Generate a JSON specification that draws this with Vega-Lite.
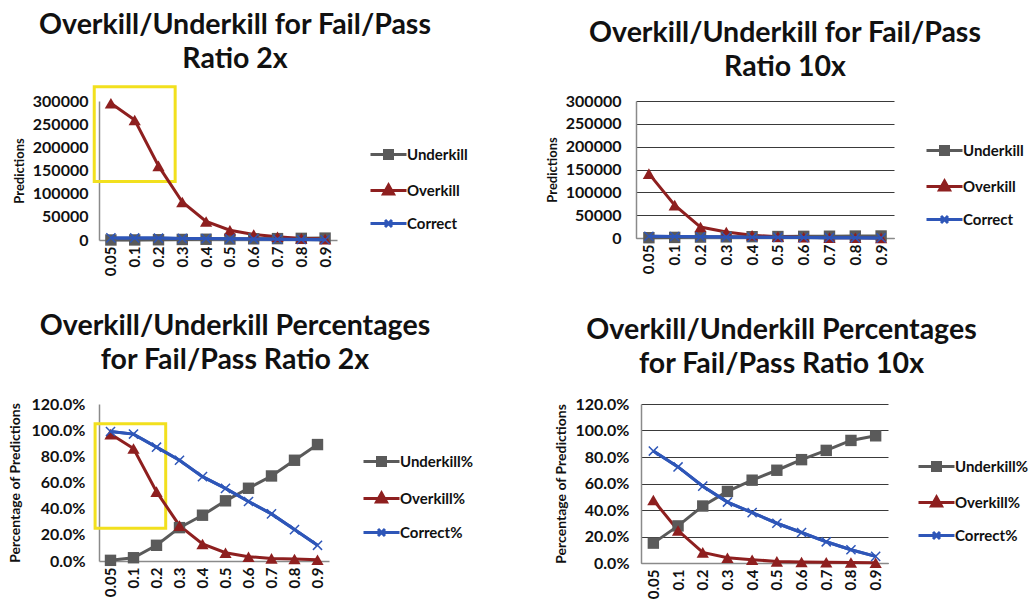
{
  "$schema": "https://vega.github.io/schema/vega-lite/v6.json",
  "background": "white",
  "padding": {"left": 8, "top": 10, "right": 0, "bottom": 0},
  "config": {
    "font": "Lato",
    "view": {"stroke": null},
    "title": {"font": "Lato", "fontSize": 28.5, "fontWeight": "bold", "color": "#111", "lineHeight": 34, "anchor": "middle", "offset": 12},
    "axis": {"labelFont": "Lato", "labelFontWeight": "bold", "labelColor": "#111", "titleFont": "Lato", "titleFontWeight": "bold", "titleColor": "#111", "ticks": false, "domainColor": "#8a8a8a", "domainWidth": 1.5, "labelOverlap": false},
    "axisY": {"labelFontSize": 16, "labelPadding": 11, "gridColor": "#3a3a3a", "gridWidth": 1, "titlePadding": 6},
    "axisX": {"labelFontSize": 15, "labelAngle": -90, "labelPadding": 6, "grid": false, "title": null},
    "legend": {"labelFont": "Lato", "labelFontSize": 15, "labelFontWeight": "bold", "labelColor": "#111", "symbolSize": 100, "symbolStrokeWidth": 3, "labelOffset": 24, "rowPadding": 14, "title": null},
    "point": {"size": 130, "opacity": 1}
  },
  "datasets": {
    "counts2x": [
      {"threshold": "0.05", "series": "Underkill", "value": 30},
      {"threshold": "0.1", "series": "Underkill", "value": 120},
      {"threshold": "0.2", "series": "Underkill", "value": 550},
      {"threshold": "0.3", "series": "Underkill", "value": 1170},
      {"threshold": "0.4", "series": "Underkill", "value": 1610},
      {"threshold": "0.5", "series": "Underkill", "value": 2120},
      {"threshold": "0.6", "series": "Underkill", "value": 2560},
      {"threshold": "0.7", "series": "Underkill", "value": 2990},
      {"threshold": "0.8", "series": "Underkill", "value": 3540},
      {"threshold": "0.9", "series": "Underkill", "value": 4100},
      {"threshold": "0.05", "series": "Overkill", "value": 295000},
      {"threshold": "0.1", "series": "Overkill", "value": 259000},
      {"threshold": "0.2", "series": "Overkill", "value": 160000},
      {"threshold": "0.3", "series": "Overkill", "value": 82000},
      {"threshold": "0.4", "series": "Overkill", "value": 40000},
      {"threshold": "0.5", "series": "Overkill", "value": 21000},
      {"threshold": "0.6", "series": "Overkill", "value": 12000},
      {"threshold": "0.7", "series": "Overkill", "value": 7000},
      {"threshold": "0.8", "series": "Overkill", "value": 3500},
      {"threshold": "0.9", "series": "Overkill", "value": 2000},
      {"threshold": "0.05", "series": "Correct", "value": 4570},
      {"threshold": "0.1", "series": "Correct", "value": 4480},
      {"threshold": "0.2", "series": "Correct", "value": 4050},
      {"threshold": "0.3", "series": "Correct", "value": 3430},
      {"threshold": "0.4", "series": "Correct", "value": 2990},
      {"threshold": "0.5", "series": "Correct", "value": 2480},
      {"threshold": "0.6", "series": "Correct", "value": 2040},
      {"threshold": "0.7", "series": "Correct", "value": 1610},
      {"threshold": "0.8", "series": "Correct", "value": 1060},
      {"threshold": "0.9", "series": "Correct", "value": 500}
    ],
    "counts10x": [
      {"threshold": "0.05", "series": "Underkill", "value": 700},
      {"threshold": "0.1", "series": "Underkill", "value": 1300},
      {"threshold": "0.2", "series": "Underkill", "value": 2000},
      {"threshold": "0.3", "series": "Underkill", "value": 2500},
      {"threshold": "0.4", "series": "Underkill", "value": 2900},
      {"threshold": "0.5", "series": "Underkill", "value": 3200},
      {"threshold": "0.6", "series": "Underkill", "value": 3600},
      {"threshold": "0.7", "series": "Underkill", "value": 3900},
      {"threshold": "0.8", "series": "Underkill", "value": 4250},
      {"threshold": "0.9", "series": "Underkill", "value": 4400},
      {"threshold": "0.05", "series": "Overkill", "value": 141000},
      {"threshold": "0.1", "series": "Overkill", "value": 72000},
      {"threshold": "0.2", "series": "Overkill", "value": 24000},
      {"threshold": "0.3", "series": "Overkill", "value": 13000},
      {"threshold": "0.4", "series": "Overkill", "value": 6000},
      {"threshold": "0.5", "series": "Overkill", "value": 3000},
      {"threshold": "0.6", "series": "Overkill", "value": 1500},
      {"threshold": "0.7", "series": "Overkill", "value": 800},
      {"threshold": "0.8", "series": "Overkill", "value": 500},
      {"threshold": "0.9", "series": "Overkill", "value": 200},
      {"threshold": "0.05", "series": "Correct", "value": 3900},
      {"threshold": "0.1", "series": "Correct", "value": 3300},
      {"threshold": "0.2", "series": "Correct", "value": 2600},
      {"threshold": "0.3", "series": "Correct", "value": 2100},
      {"threshold": "0.4", "series": "Correct", "value": 1700},
      {"threshold": "0.5", "series": "Correct", "value": 1400},
      {"threshold": "0.6", "series": "Correct", "value": 1000},
      {"threshold": "0.7", "series": "Correct", "value": 700},
      {"threshold": "0.8", "series": "Correct", "value": 450},
      {"threshold": "0.9", "series": "Correct", "value": 200}
    ],
    "pct2x": [
      {"threshold": "0.05", "series": "Underkill%", "value": 0.005},
      {"threshold": "0.1", "series": "Underkill%", "value": 0.025},
      {"threshold": "0.2", "series": "Underkill%", "value": 0.12},
      {"threshold": "0.3", "series": "Underkill%", "value": 0.255},
      {"threshold": "0.4", "series": "Underkill%", "value": 0.35},
      {"threshold": "0.5", "series": "Underkill%", "value": 0.46},
      {"threshold": "0.6", "series": "Underkill%", "value": 0.556},
      {"threshold": "0.7", "series": "Underkill%", "value": 0.65},
      {"threshold": "0.8", "series": "Underkill%", "value": 0.77},
      {"threshold": "0.9", "series": "Underkill%", "value": 0.89},
      {"threshold": "0.05", "series": "Overkill%", "value": 0.97},
      {"threshold": "0.1", "series": "Overkill%", "value": 0.86},
      {"threshold": "0.2", "series": "Overkill%", "value": 0.53},
      {"threshold": "0.3", "series": "Overkill%", "value": 0.27},
      {"threshold": "0.4", "series": "Overkill%", "value": 0.13},
      {"threshold": "0.5", "series": "Overkill%", "value": 0.063},
      {"threshold": "0.6", "series": "Overkill%", "value": 0.033},
      {"threshold": "0.7", "series": "Overkill%", "value": 0.02},
      {"threshold": "0.8", "series": "Overkill%", "value": 0.015},
      {"threshold": "0.9", "series": "Overkill%", "value": 0.01},
      {"threshold": "0.05", "series": "Correct%", "value": 0.99},
      {"threshold": "0.1", "series": "Correct%", "value": 0.97},
      {"threshold": "0.2", "series": "Correct%", "value": 0.87},
      {"threshold": "0.3", "series": "Correct%", "value": 0.77},
      {"threshold": "0.4", "series": "Correct%", "value": 0.645},
      {"threshold": "0.5", "series": "Correct%", "value": 0.555},
      {"threshold": "0.6", "series": "Correct%", "value": 0.455},
      {"threshold": "0.7", "series": "Correct%", "value": 0.36},
      {"threshold": "0.8", "series": "Correct%", "value": 0.24},
      {"threshold": "0.9", "series": "Correct%", "value": 0.12}
    ],
    "pct10x": [
      {"threshold": "0.05", "series": "Underkill%", "value": 0.15},
      {"threshold": "0.1", "series": "Underkill%", "value": 0.28},
      {"threshold": "0.2", "series": "Underkill%", "value": 0.43},
      {"threshold": "0.3", "series": "Underkill%", "value": 0.54},
      {"threshold": "0.4", "series": "Underkill%", "value": 0.625},
      {"threshold": "0.5", "series": "Underkill%", "value": 0.70},
      {"threshold": "0.6", "series": "Underkill%", "value": 0.78},
      {"threshold": "0.7", "series": "Underkill%", "value": 0.85},
      {"threshold": "0.8", "series": "Underkill%", "value": 0.925},
      {"threshold": "0.9", "series": "Underkill%", "value": 0.96},
      {"threshold": "0.05", "series": "Overkill%", "value": 0.475},
      {"threshold": "0.1", "series": "Overkill%", "value": 0.245},
      {"threshold": "0.2", "series": "Overkill%", "value": 0.08},
      {"threshold": "0.3", "series": "Overkill%", "value": 0.04},
      {"threshold": "0.4", "series": "Overkill%", "value": 0.025},
      {"threshold": "0.5", "series": "Overkill%", "value": 0.012},
      {"threshold": "0.6", "series": "Overkill%", "value": 0.008},
      {"threshold": "0.7", "series": "Overkill%", "value": 0.006},
      {"threshold": "0.8", "series": "Overkill%", "value": 0.004},
      {"threshold": "0.9", "series": "Overkill%", "value": 0.002},
      {"threshold": "0.05", "series": "Correct%", "value": 0.845},
      {"threshold": "0.1", "series": "Correct%", "value": 0.725},
      {"threshold": "0.2", "series": "Correct%", "value": 0.58},
      {"threshold": "0.3", "series": "Correct%", "value": 0.46},
      {"threshold": "0.4", "series": "Correct%", "value": 0.38},
      {"threshold": "0.5", "series": "Correct%", "value": 0.30},
      {"threshold": "0.6", "series": "Correct%", "value": 0.23},
      {"threshold": "0.7", "series": "Correct%", "value": 0.16},
      {"threshold": "0.8", "series": "Correct%", "value": 0.10},
      {"threshold": "0.9", "series": "Correct%", "value": 0.05}
    ]
  },
  "spacing": 32,
  "resolve": {"scale": {"color": "independent"}, "legend": {"color": "independent"}},
  "vconcat": [
    {
      "spacing": 32,
      "resolve": {"scale": {"color": "independent"}, "legend": {"color": "independent"}},
      "hconcat": [
        {
          "width": 238, "height": 139,
          "title": {"text": ["Overkill/Underkill for Fail/Pass", "Ratio 2x"], "dx": 17},
          "data": {"name": "counts2x"},
          "layer": [
            {
              "data": {"values": [{}]},
              "mark": {"type": "rect", "filled": false, "stroke": "#f2e01e", "strokeWidth": 3},
              "encoding": {
                "x": {"datum": -0.2, "type": "quantitative", "scale": {"domain": [0, 10]}, "axis": null},
                "x2": {"datum": 3.2},
                "y": {"datum": 331000, "type": "quantitative", "axis": {"values": [0, 50000, 100000, 150000, 200000, 250000, 300000], "format": "d", "title": "Predictions", "titleFontSize": 13}},
                "y2": {"datum": 126000}
              }
            },
            {
              "encoding": {
                "x": {"field": "threshold", "type": "ordinal", "sort": null, "scale": {"type": "point", "padding": 0.5}},
                "y": {"field": "value", "type": "quantitative", "scale": {"domain": [0, 300000]}, "axis": {"values": [0, 50000, 100000, 150000, 200000, 250000, 300000], "format": "d", "title": "Predictions", "titleFontSize": 13}}
              },
              "layer": [
                {
                  "mark": {"type": "line", "strokeWidth": 3},
                  "encoding": {
                    "color": {"field": "series", "type": "nominal",
                      "scale": {"domain": ["Underkill", "Overkill", "Correct"], "range": ["#5a5a5a", "#8e1f1f", "#2e56b8"]},
                      "legend": {"offset": -15, "padding": 46,
                        "encode": {"symbols": {"update": {
                          "shape": {"signal": "indexof(datum.value, 'Under') === 0 ? 'M-1,0H6.2M1.8,-0.8H3.4V0.8H1.8Z' : indexof(datum.value, 'Over') === 0 ? 'M-1,0H6.2M2.6,-1.1L3.6,0.7H1.6Z' : 'M-1,0H6.2M1.9,-0.7L3.3,0.7M1.9,0.7L3.3,-0.7'"},
                          "fill": {"signal": "indexof(datum.value, 'Under') === 0 ? '#5a5a5a' : indexof(datum.value, 'Over') === 0 ? '#8e1f1f' : '#2e56b8'"},
                          "stroke": {"signal": "indexof(datum.value, 'Under') === 0 ? '#5a5a5a' : indexof(datum.value, 'Over') === 0 ? '#8e1f1f' : '#2e56b8'"}
                        }}}}
                    }
                  }
                },
                {"transform": [{"filter": "indexof(datum.series, 'Under') === 0"}], "mark": {"type": "point", "shape": "square", "filled": true, "color": "#5a5a5a"}},
                {"transform": [{"filter": "indexof(datum.series, 'Over') === 0"}], "mark": {"type": "point", "shape": "triangle-up", "filled": true, "size": 150, "color": "#8e1f1f"}},
                {"transform": [{"filter": "indexof(datum.series, 'Correct') === 0"}], "mark": {"type": "line", "strokeWidth": 3, "color": "#2e56b8"}},
                {"transform": [{"filter": "indexof(datum.series, 'Correct') === 0"}], "mark": {"type": "point", "shape": "M-0.8,-0.8L0.8,0.8M-0.8,0.8L0.8,-0.8", "filled": false, "strokeWidth": 1.5, "color": "#2e56b8"}}
              ]
            }
          ],
          "resolve": {"scale": {"x": "independent"}}
        },
        {
          "width": 258, "height": 137,
          "title": {"text": ["Overkill/Underkill for Fail/Pass", "Ratio 10x"], "dx": 20},
          "data": {"name": "counts10x"},
          "encoding": {
            "x": {"field": "threshold", "type": "ordinal", "sort": null, "scale": {"type": "point", "padding": 0.5}},
            "y": {"field": "value", "type": "quantitative", "scale": {"domain": [0, 300000]}, "axis": {"values": [0, 50000, 100000, 150000, 200000, 250000, 300000], "format": "d", "title": "Predictions", "titleFontSize": 13, "labelPadding": 15}}
          },
          "layer": [
            {
              "mark": {"type": "line", "strokeWidth": 3},
              "encoding": {
                "color": {"field": "series", "type": "nominal",
                  "scale": {"domain": ["Underkill", "Overkill", "Correct"], "range": ["#5a5a5a", "#8e1f1f", "#2e56b8"]},
                  "legend": {"offset": -12, "padding": 42,
                    "encode": {"symbols": {"update": {
                      "shape": {"signal": "indexof(datum.value, 'Under') === 0 ? 'M-1,0H6.2M1.8,-0.8H3.4V0.8H1.8Z' : indexof(datum.value, 'Over') === 0 ? 'M-1,0H6.2M2.6,-1.1L3.6,0.7H1.6Z' : 'M-1,0H6.2M1.9,-0.7L3.3,0.7M1.9,0.7L3.3,-0.7'"},
                      "fill": {"signal": "indexof(datum.value, 'Under') === 0 ? '#5a5a5a' : indexof(datum.value, 'Over') === 0 ? '#8e1f1f' : '#2e56b8'"},
                      "stroke": {"signal": "indexof(datum.value, 'Under') === 0 ? '#5a5a5a' : indexof(datum.value, 'Over') === 0 ? '#8e1f1f' : '#2e56b8'"}
                    }}}}
                }
              }
            },
            {"transform": [{"filter": "indexof(datum.series, 'Under') === 0"}], "mark": {"type": "point", "shape": "square", "filled": true, "color": "#5a5a5a"}},
            {"transform": [{"filter": "indexof(datum.series, 'Over') === 0"}], "mark": {"type": "point", "shape": "triangle-up", "filled": true, "size": 150, "color": "#8e1f1f"}},
            {"transform": [{"filter": "indexof(datum.series, 'Correct') === 0"}], "mark": {"type": "line", "strokeWidth": 3, "color": "#2e56b8"}},
            {"transform": [{"filter": "indexof(datum.series, 'Correct') === 0"}], "mark": {"type": "point", "shape": "M-0.8,-0.8L0.8,0.8M-0.8,0.8L0.8,-0.8", "filled": false, "strokeWidth": 1.5, "color": "#2e56b8"}}
          ]
        }
      ]
    },
    {
      "spacing": 30,
      "resolve": {"scale": {"color": "independent"}, "legend": {"color": "independent"}},
      "hconcat": [
        {
          "width": 230, "height": 157,
          "title": {"text": ["Overkill/Underkill Percentages", "for Fail/Pass Ratio 2x"], "dx": 21, "offset": 22},
          "data": {"name": "pct2x"},
          "layer": [
            {
              "data": {"values": [{}]},
              "mark": {"type": "rect", "filled": false, "stroke": "#f2e01e", "strokeWidth": 3},
              "encoding": {
                "x": {"datum": -0.17, "type": "quantitative", "scale": {"domain": [0, 10]}, "axis": null},
                "x2": {"datum": 2.9},
                "y": {"datum": 1.05, "type": "quantitative", "axis": {"values": [0, 0.2, 0.4, 0.6, 0.8, 1.0, 1.2], "format": ".1%", "title": "Percentage of Predictions", "titleFontSize": 14, "labelPadding": 14, "titlePadding": 8}},
                "y2": {"datum": 0.25}
              }
            },
            {
              "encoding": {
                "x": {"field": "threshold", "type": "ordinal", "sort": null, "scale": {"type": "point", "padding": 0.5}},
                "y": {"field": "value", "type": "quantitative", "scale": {"domain": [0, 1.2]}, "axis": {"values": [0, 0.2, 0.4, 0.6, 0.8, 1.0, 1.2], "format": ".1%", "title": "Percentage of Predictions", "titleFontSize": 14, "labelPadding": 14, "titlePadding": 8}}
              },
              "layer": [
                {
                  "mark": {"type": "line", "strokeWidth": 3},
                  "encoding": {
                    "color": {"field": "series", "type": "nominal",
                      "scale": {"domain": ["Underkill%", "Overkill%", "Correct%"], "range": ["#5a5a5a", "#8e1f1f", "#2e56b8"]},
                      "legend": {"offset": -18, "padding": 50, "rowPadding": 15,
                        "encode": {"symbols": {"update": {
                          "shape": {"signal": "indexof(datum.value, 'Under') === 0 ? 'M-1,0H6.2M1.8,-0.8H3.4V0.8H1.8Z' : indexof(datum.value, 'Over') === 0 ? 'M-1,0H6.2M2.6,-1.1L3.6,0.7H1.6Z' : 'M-1,0H6.2M1.9,-0.7L3.3,0.7M1.9,0.7L3.3,-0.7'"},
                          "fill": {"signal": "indexof(datum.value, 'Under') === 0 ? '#5a5a5a' : indexof(datum.value, 'Over') === 0 ? '#8e1f1f' : '#2e56b8'"},
                          "stroke": {"signal": "indexof(datum.value, 'Under') === 0 ? '#5a5a5a' : indexof(datum.value, 'Over') === 0 ? '#8e1f1f' : '#2e56b8'"}
                        }}}}
                    }
                  }
                },
                {"transform": [{"filter": "indexof(datum.series, 'Under') === 0"}], "mark": {"type": "point", "shape": "square", "filled": true, "color": "#5a5a5a"}},
                {"transform": [{"filter": "indexof(datum.series, 'Over') === 0"}], "mark": {"type": "point", "shape": "triangle-up", "filled": true, "size": 150, "color": "#8e1f1f"}},
                {"transform": [{"filter": "indexof(datum.series, 'Correct') === 0"}], "mark": {"type": "line", "strokeWidth": 3, "color": "#2e56b8"}},
                {"transform": [{"filter": "indexof(datum.series, 'Correct') === 0"}], "mark": {"type": "point", "shape": "M-0.8,-0.8L0.8,0.8M-0.8,0.8L0.8,-0.8", "filled": false, "strokeWidth": 1.5, "color": "#2e56b8"}}
              ]
            }
          ],
          "resolve": {"scale": {"x": "independent"}}
        },
        {
          "width": 247, "height": 159,
          "title": {"text": ["Overkill/Underkill Percentages", "for Fail/Pass Ratio 10x"], "dx": 17, "offset": 18},
          "data": {"name": "pct10x"},
          "encoding": {
            "x": {"field": "threshold", "type": "ordinal", "sort": null, "scale": {"type": "point", "padding": 0.5}},
            "y": {"field": "value", "type": "quantitative", "scale": {"domain": [0, 1.2]}, "axis": {"values": [0, 0.2, 0.4, 0.6, 0.8, 1.0, 1.2], "format": ".1%", "title": "Percentage of Predictions", "titleFontSize": 14, "labelPadding": 12}}
          },
          "layer": [
            {
              "mark": {"type": "line", "strokeWidth": 3},
              "encoding": {
                "color": {"field": "series", "type": "nominal",
                  "scale": {"domain": ["Underkill%", "Overkill%", "Correct%"], "range": ["#5a5a5a", "#8e1f1f", "#2e56b8"]},
                  "legend": {"offset": -27, "padding": 55, "rowPadding": 14,
                    "encode": {"symbols": {"update": {
                      "shape": {"signal": "indexof(datum.value, 'Under') === 0 ? 'M-1,0H6.2M1.8,-0.8H3.4V0.8H1.8Z' : indexof(datum.value, 'Over') === 0 ? 'M-1,0H6.2M2.6,-1.1L3.6,0.7H1.6Z' : 'M-1,0H6.2M1.9,-0.7L3.3,0.7M1.9,0.7L3.3,-0.7'"},
                      "fill": {"signal": "indexof(datum.value, 'Under') === 0 ? '#5a5a5a' : indexof(datum.value, 'Over') === 0 ? '#8e1f1f' : '#2e56b8'"},
                      "stroke": {"signal": "indexof(datum.value, 'Under') === 0 ? '#5a5a5a' : indexof(datum.value, 'Over') === 0 ? '#8e1f1f' : '#2e56b8'"}
                    }}}}
                }
              }
            },
            {"transform": [{"filter": "indexof(datum.series, 'Under') === 0"}], "mark": {"type": "point", "shape": "square", "filled": true, "color": "#5a5a5a"}},
            {"transform": [{"filter": "indexof(datum.series, 'Over') === 0"}], "mark": {"type": "point", "shape": "triangle-up", "filled": true, "size": 150, "color": "#8e1f1f"}},
            {"transform": [{"filter": "indexof(datum.series, 'Correct') === 0"}], "mark": {"type": "line", "strokeWidth": 3, "color": "#2e56b8"}},
            {"transform": [{"filter": "indexof(datum.series, 'Correct') === 0"}], "mark": {"type": "point", "shape": "M-0.8,-0.8L0.8,0.8M-0.8,0.8L0.8,-0.8", "filled": false, "strokeWidth": 1.5, "color": "#2e56b8"}}
          ]
        }
      ]
    }
  ]
}
